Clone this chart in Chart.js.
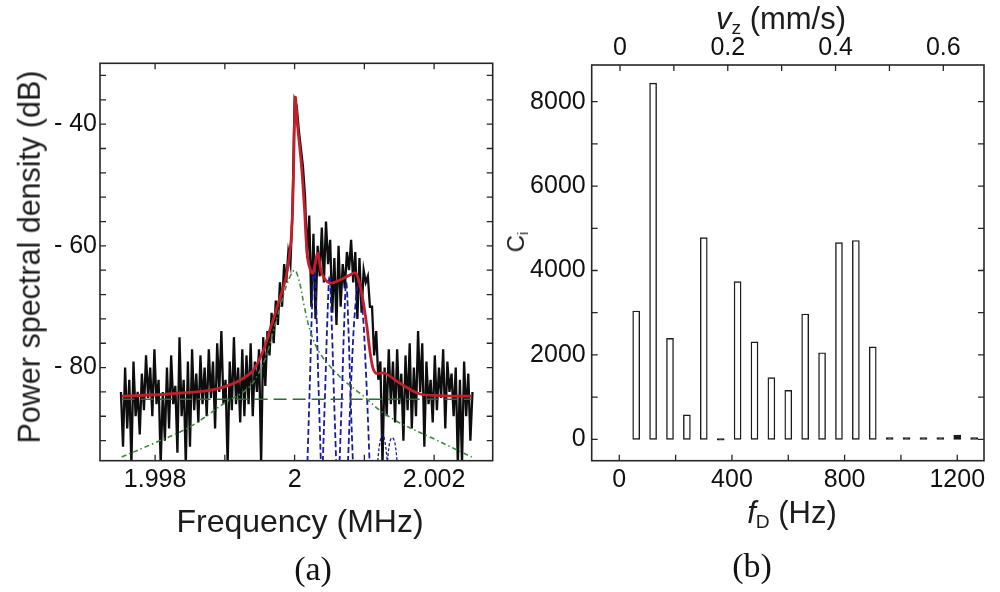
<!DOCTYPE html>
<html>
<head>
<meta charset="utf-8">
<script src="https://cdn.jsdelivr.net/npm/chart.js@4.4.1/dist/chart.umd.min.js"></script>
<style>
  body { margin: 0; background: #fff; }
  #wrap { position: relative; width: 1000px; height: 592px; overflow: hidden; }
  canvas { position: absolute; top: 0; }
  .t { position: absolute; transform: translate(-50%, -50%); white-space: nowrap; color: #1c1c1c;
       font-family: 'Liberation Sans', Arial, sans-serif; font-size: 32px; line-height: 1; }
  .r { transform: translate(-50%, -50%) rotate(-90deg); }
  .cap { font-family: 'Liberation Serif', 'Times New Roman', serif; font-size: 34px; color: #111; }
  .t sub { font-size: 62%; vertical-align: -0.3em; line-height: 0; }
</style>
</head>
<body>
<div id="wrap">
  <canvas id="psd" width="500" height="592" style="left:0"></canvas>
  <canvas id="ci" width="500" height="592" style="left:500px"></canvas>

  <div class="t r" style="left:29px; top:257px; font-size:30.5px">Power spectral density (dB)</div>
  <div class="t" style="left:300px; top:521px">Frequency (MHz)</div>
  <div class="t cap" style="left:313px; top:569px">(a)</div>

  <div class="t" style="left:781px; top:18px; font-size:31px"><i>v</i><sub>z</sub> (mm/s)</div>
  <div class="t r" style="left:516px; top:242px; font-size:24px">C<sub>i</sub></div>
  <div class="t" style="left:792px; top:512px; font-size:31px"><i>f</i><sub>D</sub> (Hz)</div>
  <div class="t cap" style="left:752px; top:566px">(b)</div>
</div>

<script>
// ---- panel (a): power spectral density around 2 MHz ----
var xTickValues = [1.998, 2, 2.002];
var xTickLabels = ['1.998', '2', '2.002'];
var yTickValues = [-80, -60, -40];
var yTickLabels = ['- 80', '- 60', '- 40'];
var xMarks = [1.998, 1.999, 2, 2.001, 2.002];
var yMarks = [-92, -88, -84, -80, -76, -72, -68, -64, -60, -56, -52, -48, -44, -40, -36, -32];

// measured spectrum (black)
var noiseMHz = [
  1.99751,1.99754,1.99757,1.99760,1.99763,1.99766,1.99769,1.99772,1.99775,1.99778,
  1.99781,1.99784,1.99787,1.99790,1.99793,1.99796,1.99799,1.99802,1.99805,1.99808,
  1.99811,1.99814,1.99817,1.99820,1.99823,1.99826,1.99829,1.99832,1.99835,1.99838,
  1.99841,1.99844,1.99847,1.99850,1.99853,1.99856,1.99859,1.99862,1.99865,1.99868,
  1.99871,1.99874,1.99877,1.99880,1.99883,1.99886,1.99889,1.99892,1.99895,1.99898,
  1.99901,1.99904,1.99907,1.99910,1.99913,1.99916,1.99919,1.99922,1.99925,1.99928,
  1.99931,1.99934,1.99937,1.99940,1.99943,1.99946,1.99949,1.99952,1.99955,1.99958,
  1.99961,1.99964,1.99967,1.99970,1.99973,1.99976,1.99979,1.99982,1.99985,1.99988,
  1.99991,1.99994,1.99997,2.00000,2.00003,2.00006,2.00009,2.00012,2.00015,2.00018,
  2.00021,2.00024,2.00027,2.00030,2.00033,2.00036,2.00039,2.00042,2.00045,2.00048,
  2.00051,2.00054,2.00057,2.00060,2.00063,2.00066,2.00069,2.00072,2.00075,2.00078,
  2.00081,2.00084,2.00087,2.00090,2.00093,2.00096,2.00099,2.00102,2.00105,2.00108,
  2.00111,2.00114,2.00117,2.00120,2.00123,2.00126,2.00129,2.00132,2.00135,2.00138,
  2.00141,2.00144,2.00147,2.00150,2.00153,2.00156,2.00159,2.00162,2.00165,2.00168,
  2.00171,2.00174,2.00177,2.00180,2.00183,2.00186,2.00189,2.00192,2.00195,2.00198,
  2.00201,2.00204,2.00207,2.00210,2.00213,2.00216,2.00219,2.00222,2.00225,2.00228,
  2.00231,2.00234,2.00237,2.00240,2.00243,2.00246,2.00249,2.00252,2.00255
];
var noiseDb = [
  -84,-93,-80,-90,-82,-96,-79,-88,-84,-91,
  -81,-87,-78,-85,-80,-88,-77,-86,-82,-96,
  -84,-92,-80,-90,-78,-86,-83,-94,-75,-88,
  -82,-96,-79,-93,-77,-87,-81,-89,-78,-86,
  -80,-88,-77,-85,-79,-90,-76,-84,-74,-86,
  -82,-96,-79,-87,-75,-86,-80,-89,-77,-88,
  -78,-86,-76,-88,-79,-84,-77,-96,-75,-83,
  -74,-78,-71,-76,-69,-73,-66,-70,-63,-66,
  -61,-63,-54,-36,-37,-41,-44,-47,-52,-62,
  -55,-70,-58,-72,-60,-65,-57,-66,-56,-63,
  -59,-71,-62,-73,-60,-70,-63,-67,-61,-64,
  -59,-66,-61,-72,-62,-71,-64,-66,-65,-70,
  -70,-78,-74,-82,-79,-96,-80,-88,-77,-86,
  -79,-89,-77,-86,-81,-92,-78,-87,-76,-90,
  -80,-88,-74,-84,-76,-93,-79,-86,-82,-89,
  -78,-87,-80,-85,-77,-90,-79,-84,-81,-88,
  -80,-96,-82,-96,-79,-88,-81,-92,-84
];

// total fit (red)
var fitMHz = [1.99752,1.99824,1.99892,1.99936,1.99954,1.99964,1.99978,1.99988,1.99995,1.99998,
  2.00001,2.00004,2.00010,2.00014,2.00019,2.00026,2.00033,2.00039,2.00050,2.00065,2.00079,
  2.00088,2.00096,2.00103,2.00110,2.00116,2.00129,2.00150,2.00179,2.00208,2.00254];
var fitDb = [-84.7,-84.3,-83.4,-81.0,-77.5,-74.0,-68.9,-65.0,-59.0,-50.0,
  -35.7,-40.0,-47.0,-53.6,-62.3,-64.5,-61.2,-64.5,-66.1,-65.6,-64.8,
  -64.5,-67.7,-72.7,-78.8,-80.9,-80.9,-82.5,-84.3,-84.6,-84.7];

// noise floor (green dashed) and broad carrier wing (green dash-dot)
var floorMHz = [1.99752, 2.00254];
var floorDb = [-85.2, -85.2];
var wingMHz = [1.99752,1.99799,1.99849,1.99900,1.99935,1.99957,1.99967,1.99978,1.99990,2.00000,
  2.00007,2.00014,2.00022,2.00036,2.00065,2.00100,2.00122,2.00151,2.00194,2.00254];
var wingDb = [-94.7,-92.4,-89.8,-85.8,-83.2,-78.8,-75.0,-70.5,-66.0,-64.0,
  -66.0,-70.0,-73.8,-77.6,-81.5,-84.8,-87.0,-89.1,-91.4,-94.7];

// Doppler components (blue dashed)
var blue1MHz = [2.00018,2.00022,2.00025,2.00028,2.00031,2.00034,2.00038];
var blue1Db = [-97,-82,-70,-63,-70,-82,-97];
var blue2MHz = [2.00040,2.00044,2.00047,2.00050,2.00053,2.00056,2.00060];
var blue2Db = [-97,-83,-72,-65,-72,-83,-97];
var blue3MHz = [2.00064,2.00068,2.00071,2.00074,2.00077,2.00080,2.00084];
var blue3Db = [-97,-84,-73,-66,-73,-84,-97];
var blue4MHz = [2.00076,2.00082,2.00087,2.00092,2.00097,2.00102,2.00108];
var blue4Db = [-97,-80,-70,-66,-70,-80,-97];
var blue5MHz = [2.00118,2.00122,2.00126,2.00130,2.00134];
var blue5Db = [-97,-92.5,-91,-92.5,-97];
var blue6MHz = [2.00132,2.00136,2.00140,2.00144,2.00148];
var blue6Db = [-97,-92.5,-91.5,-92.5,-97];

// ---- panel (b): bar weights vs Doppler frequency ----
var dopplerHz = [60,120,180,240,300,360,420,480,540,600,660,720,780,840,900,960,1020,1080,1140,1200,1260];
var counts = [3040,8440,2390,580,4780,0,3735,2310,1460,1160,2970,2050,4660,4710,2190,40,40,40,40,100,40];
var fdTickValues = [0, 400, 800, 1200];
var fdTickLabels = ['0', '400', '800', '1200'];
var vzTickValues = [0, 0.2, 0.4, 0.6];
var vzTickLabels = ['0', '0.2', '0.4', '0.6'];
var ciTickValues = [0, 2000, 4000, 6000, 8000];
var ciTickLabels = ['0', '2000', '4000', '6000', '8000'];
var fdMarks = [0, 200, 400, 600, 800, 1000, 1200];
var vzMarks = [0, 0.1, 0.2, 0.3, 0.4, 0.5, 0.6];
var ciMarks = [0, 1000, 2000, 3000, 4000, 5000, 6000, 7000, 8000];

function pairs(xs, ys) {
  return xs.map(function (x, i) { return { x: x, y: ys[i] }; });
}

// box around the plot with inward tick marks
var frameTicks = {
  id: 'frameTicks',
  afterDatasetsDraw: function (chart, args, o) {
    var a = chart.chartArea, c = chart.ctx, len = 6;
    c.save();
    c.strokeStyle = '#262626';
    c.lineWidth = 1.6;
    c.strokeRect(a.left, a.top, a.right - a.left, a.bottom - a.top);
    c.lineWidth = 1.3;
    c.beginPath();
    o.bottom.forEach(function (v) {
      var p = chart.scales[o.bottomScale].getPixelForValue(v);
      c.moveTo(p, a.bottom); c.lineTo(p, a.bottom - len);
    });
    o.top.forEach(function (v) {
      var p = chart.scales[o.topScale].getPixelForValue(v);
      c.moveTo(p, a.top); c.lineTo(p, a.top + len);
    });
    o.side.forEach(function (v) {
      var p = chart.scales.y.getPixelForValue(v);
      c.moveTo(a.left, p); c.lineTo(a.left + len, p);
      c.moveTo(a.right, p); c.lineTo(a.right - len, p);
    });
    c.stroke();
    c.restore();
  }
};

var tickFont = { family: "'Liberation Sans', Arial, sans-serif", size: 25 };

function fixedTicks(values, labels, pad) {
  return {
    grid: { display: false, drawTicks: false },
    border: { display: false },
    afterBuildTicks: function (s) { s.ticks = values.map(function (v) { return { value: v }; }); },
    ticks: {
      padding: pad, font: tickFont, color: '#111', autoSkip: false, maxRotation: 0,
      callback: function (v, i) { return labels[i]; }
    }
  };
}

function line(xs, ys, color, width, dash, order, tension) {
  return {
    data: pairs(xs, ys), borderColor: color, borderWidth: width, borderDash: dash,
    pointRadius: 0, tension: tension, order: order, fill: false
  };
}

var psdX = fixedTicks(xTickValues, xTickLabels, 4);
psdX.type = 'linear'; psdX.min = 1.99721; psdX.max = 2.00284;
psdX.afterFit = function (s) { s.height = 131.3; };
var psdY = fixedTicks(yTickValues, yTickLabels, 3);
psdY.type = 'linear'; psdY.min = -95.3; psdY.max = -30;
psdY.afterFit = function (s) { s.width = 100; };

new Chart(document.getElementById('psd'), {
  type: 'line',
  data: {
    datasets: [
      line(fitMHz, fitDb, '#c21f2b', 2.8, [], 0, 0.35),
      line(floorMHz, floorDb, '#2f6b3c', 1.7, [13, 6], 1, 0),
      line(wingMHz, wingDb, '#3b8a3b', 1.6, [5, 3, 1.5, 3], 1, 0.35),
      line(blue1MHz, blue1Db, '#1a1aa0', 1.8, [6, 3], 2, 0.4),
      line(blue2MHz, blue2Db, '#1a1aa0', 1.8, [6, 3], 2, 0.4),
      line(blue3MHz, blue3Db, '#1a1aa0', 1.8, [6, 3], 2, 0.4),
      line(blue4MHz, blue4Db, '#1a1aa0', 1.8, [6, 3], 2, 0.4),
      line(blue5MHz, blue5Db, '#1a1aa0', 1.3, [3, 2], 2, 0.4),
      line(blue6MHz, blue6Db, '#1a1aa0', 1.3, [3, 2], 2, 0.4),
      line(noiseMHz, noiseDb, '#0d0d0d', 2.3, [], 3, 0)
    ]
  },
  options: {
    responsive: false,
    animation: false,
    layout: { padding: { left: 0, top: 63.3, right: 7.3, bottom: 0 } },
    plugins: {
      legend: { display: false },
      tooltip: { enabled: false },
      frameTicks: { bottomScale: 'x', bottom: xMarks, topScale: 'x', top: xMarks, side: yMarks }
    },
    scales: { x: psdX, y: psdY }
  },
  plugins: [frameTicks]
});

var fdX = fixedTicks(fdTickValues, fdTickLabels, 4);
fdX.type = 'linear'; fdX.position = 'bottom'; fdX.offset = false; fdX.min = -98; fdX.max = 1295;
fdX.afterFit = function (s) { s.height = 131.3; };
var vzX = fixedTicks(vzTickValues, vzTickLabels, 2);
vzX.type = 'linear'; vzX.axis = 'x'; vzX.position = 'top'; vzX.offset = false; vzX.min = -0.0525; vzX.max = 0.6755;
vzX.afterFit = function (s) { s.height = 65; };
var ciY = fixedTicks(ciTickValues, ciTickLabels, 6);
ciY.type = 'linear'; ciY.min = -507; ciY.max = 8870;
ciY.afterFit = function (s) { s.width = 91.7; };

new Chart(document.getElementById('ci'), {
  type: 'bar',
  data: {
    datasets: [{
      data: pairs(dopplerHz, counts),
      // near-empty bins collapse to solid dashes on the zero line
      backgroundColor: function (ctx) { return ctx.raw && ctx.raw.y < 150 ? '#1a1a1a' : '#ffffff'; },
      borderColor: '#1a1a1a', borderWidth: 1.4,
      borderSkipped: false, barThickness: 7, minBarLength: 1.5,
      xAxisID: 'x', yAxisID: 'y'
    }]
  },
  options: {
    responsive: false,
    animation: false,
    layout: { padding: { left: 0, top: 0, right: 16, bottom: 0 } },
    plugins: {
      legend: { display: false },
      tooltip: { enabled: false },
      frameTicks: { bottomScale: 'x', bottom: fdMarks, topScale: 'x2', top: vzMarks, side: ciMarks }
    },
    scales: { x: fdX, x2: vzX, y: ciY }
  },
  plugins: [frameTicks]
});
</script>
</body>
</html>
